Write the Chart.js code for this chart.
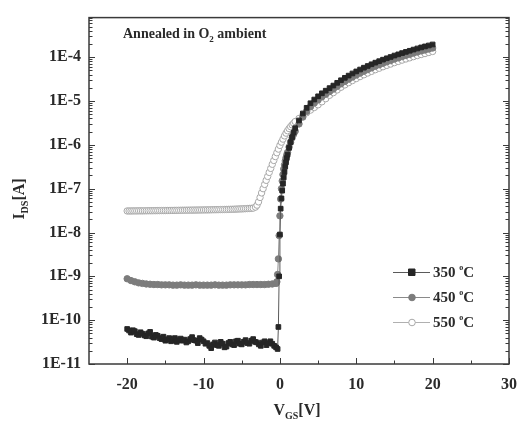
<!DOCTYPE html>
<html><head><meta charset="utf-8">
<script src="https://cdn.jsdelivr.net/npm/chart.js@4/dist/chart.umd.min.js"></script>
<style>html,body{margin:0;padding:0;background:#fff}canvas{display:block}</style>
</head><body>
<canvas id="c" width="528" height="431"></canvas>
<script>
// ---- data ----
const seriesLabels = ["350", "450", "550"];
const xTicks = [-20, -10, 0, 10, 20, 30];
const yDecades = [-11, -10, -9, -8, -7, -6, -5, -4];

const V350 = [-20,-19.75,-19.5,-19.25,-19,-18.75,-18.5,-18.25,-18,-17.75,-17.5,-17.25,-17,-16.75,-16.5,-16.25,-16,-15.75,-15.5,-15.25,
 -15,-14.75,-14.5,-14.25,-14,-13.75,-13.5,-13.25,-13,-12.75,-12.5,-12.25,-12,-11.75,-11.5,-11.25,-11,-10.75,-10.5,-10.25,
 -10,-9.75,-9.5,-9.25,-9,-8.75,-8.5,-8.25,-8,-7.75,-7.5,-7.25,-7,-6.75,-6.5,-6.25,-6,-5.75,-5.5,-5.25,
 -5,-4.75,-4.5,-4.25,-4,-3.75,-3.5,-3.25,-3,-2.75,-2.5,-2.25,-2,-1.75,-1.5,-1.25,-1,-0.75,-0.5,
 -0.3,-0.2,-0.1,0,0.1,0.2,0.3,0.4,0.5,0.6,0.7,0.8,0.9,1,1.2,1.4,1.6,1.8,2,
 2.5,3,3.5,4,4.5,5,5.5,6,6.5,7,7.5,8,8.5,9,9.5,10,10.5,11,11.5,12,12.5,13,13.5,14,14.5,15,15.5,16,16.5,17,17.5,18,18.5,19,19.5,20];
const I350 = [6.3e-11,5.8e-11,5.2e-11,5.9e-11,5.6e-11,4.8e-11,4.6e-11,5.3e-11,4.9e-11,4.5e-11,4.3e-11,5.0e-11,5.4e-11,4.2e-11,4.0e-11,4.6e-11,4.4e-11,3.9e-11,3.7e-11,4.2e-11,
 3.4e-11,3.6e-11,3.9e-11,3.3e-11,3.5e-11,3.9e-11,3.2e-11,3.5e-11,3.8e-11,3.4e-11,3.6e-11,3.1e-11,3.3e-11,3.7e-11,4.1e-11,3.5e-11,3.4e-11,3.0e-11,3.9e-11,3.6e-11,
 3.3e-11,2.9e-11,3.0e-11,2.6e-11,2.3e-11,2.8e-11,3.1e-11,2.7e-11,2.6e-11,3.2e-11,2.9e-11,2.4e-11,2.5e-11,3.0e-11,3.2e-11,2.8e-11,2.7e-11,3.3e-11,3.4e-11,2.9e-11,
 2.8e-11,3.2e-11,3.5e-11,3.0e-11,2.9e-11,3.4e-11,3.7e-11,3.2e-11,3.1e-11,2.8e-11,2.6e-11,3.1e-11,3.3e-11,2.7e-11,3.0e-11,3.3e-11,2.9e-11,2.6e-11,2.4e-11,
 2.2e-11,7e-11,1.0e-9,9e-9,3.5e-8,6e-8,9e-8,1.3e-7,1.8e-7,2.4e-7,
 3.2e-7,4.0e-7,5.0e-7,6.0e-7,8.5e-7,1.15e-6,1.5e-6,1.9e-6,2.4e-6,
 3.6e-6,5.2e-6,7.0e-6,8.9e-6,1.08e-5,1.28e-5,1.5e-5,1.72e-5,1.97e-5,2.25e-5,
 2.6e-5,2.98e-5,3.38e-5,3.8e-5,4.25e-5,4.73e-5,5.23e-5,5.76e-5,6.3e-5,6.89e-5,
 7.5e-5,8.1e-5,8.77e-5,9.44e-5,1.01e-4,1.09e-4,1.16e-4,1.24e-4,1.32e-4,1.4e-4,
 1.49e-4,1.58e-4,1.67e-4,1.76e-4,1.85e-4,1.95e-4];

const V450 = [-20,-19.5,-19,-18.5,-18,-17.5,-17,-16.5,-16,-15.5,-15,-14.5,-14,-13.5,-13,-12.5,-12,-11.5,-11,-10.5,-10,-9.5,-9,-8.5,-8,-7.5,-7,-6.5,-6,-5.5,-5,-4.5,-4,-3.5,-3,-2.5,-2,-1.5,-1,-0.5,
 -0.4,-0.3,-0.2,-0.1,0,0.1,0.2,0.3,0.4,0.5,0.6,0.7,0.8,0.9,1,1.2,1.4,1.6,1.8,2,
 2.5,3,3.5,4,4.5,5,5.5,6,6.5,7,7.5,8,8.5,9,9.5,10,10.5,11,11.5,12,12.5,13,13.5,14,14.5,15,15.5,16,16.5,17,17.5,18,18.5,19,19.5,20];
const I450 = [8.8e-10,8.0e-10,7.5e-10,7.1e-10,6.9e-10,6.7e-10,6.6e-10,6.5e-10,6.5e-10,6.4e-10,
 6.4e-10,6.4e-10,6.3e-10,6.3e-10,6.4e-10,6.3e-10,6.3e-10,6.3e-10,6.4e-10,6.3e-10,
 6.3e-10,6.3e-10,6.3e-10,6.4e-10,6.3e-10,6.3e-10,6.3e-10,6.4e-10,6.4e-10,6.4e-10,
 6.4e-10,6.4e-10,6.5e-10,6.5e-10,6.5e-10,6.5e-10,6.5e-10,6.6e-10,6.7e-10,6.9e-10,
 7.5e-10,1.1e-9,2.5e-9,8.5e-9,2.4e-8,5.8e-8,1.0e-7,1.5e-7,2.1e-7,2.8e-7,
 3.5e-7,4.3e-7,5.1e-7,5.9e-7,6.7e-7,8.9e-7,1.15e-6,1.45e-6,1.75e-6,2.05e-6,
 3.0e-6,4.3e-6,5.8e-6,7.4e-6,9.0e-6,1.06e-5,1.25e-5,1.43e-5,1.64e-5,1.87e-5,
 2.16e-5,2.47e-5,2.8e-5,3.15e-5,3.53e-5,3.93e-5,4.34e-5,4.78e-5,5.23e-5,5.72e-5,
 6.22e-5,6.72e-5,7.28e-5,7.84e-5,8.4e-5,9.05e-5,9.63e-5,1.03e-4,1.1e-4,1.16e-4,
 1.24e-4,1.31e-4,1.39e-4,1.46e-4,1.54e-4,1.62e-4];

const V550 = [-20,-19.75,-19.5,-19.25,-19,-18.75,-18.5,-18.25,-18,-17.75,-17.5,-17.25,-17,-16.75,-16.5,-16.25,-16,-15.75,-15.5,-15.25,
 -15,-14.75,-14.5,-14.25,-14,-13.75,-13.5,-13.25,-13,-12.75,-12.5,-12.25,-12,-11.75,-11.5,-11.25,-11,-10.75,-10.5,-10.25,
 -10,-9.75,-9.5,-9.25,-9,-8.75,-8.5,-8.25,-8,-7.75,-7.5,-7.25,-7,-6.75,-6.5,-6.25,-6,-5.75,-5.5,-5.25,
 -5,-4.75,-4.5,-4.25,-4,-3.75,-3.5,
 -3.2,-3,-2.8,-2.6,-2.4,-2.2,-2,-1.8,-1.6,-1.4,-1.2,-1,-0.8,-0.6,-0.4,-0.2,0,0.2,0.4,0.6,0.8,1,1.2,1.4,1.6,1.8,2,
 2.5,3,3.5,4,4.5,5,5.5,6,6.5,7,7.5,8,8.5,9,9.5,10,10.5,11,11.5,12,12.5,13,13.5,14,14.5,15,15.5,16,16.5,17,17.5,18,18.5,19,19.5,20];
const I550 = [3.10e-8,3.10e-8,3.10e-8,3.11e-8,3.11e-8,3.11e-8,3.12e-8,3.12e-8,3.12e-8,3.13e-8,3.13e-8,3.14e-8,3.14e-8,3.14e-8,3.15e-8,3.15e-8,3.16e-8,3.16e-8,3.17e-8,3.17e-8,
 3.17e-8,3.18e-8,3.18e-8,3.19e-8,3.19e-8,3.20e-8,3.20e-8,3.21e-8,3.21e-8,3.22e-8,3.22e-8,3.23e-8,3.23e-8,3.24e-8,3.24e-8,3.25e-8,3.25e-8,3.26e-8,3.26e-8,3.27e-8,
 3.27e-8,3.28e-8,3.28e-8,3.29e-8,3.30e-8,3.31e-8,3.31e-8,3.32e-8,3.33e-8,3.34e-8,3.34e-8,3.35e-8,3.36e-8,3.37e-8,3.38e-8,3.39e-8,3.40e-8,3.42e-8,3.43e-8,3.45e-8,
 3.46e-8,3.48e-8,3.50e-8,3.52e-8,3.54e-8,3.56e-8,3.60e-8,
 3.8e-8,4.2e-8,5.0e-8,6.3e-8,8.0e-8,1.0e-7,1.25e-7,1.55e-7,1.9e-7,2.35e-7,
 2.9e-7,3.6e-7,4.4e-7,5.4e-7,6.6e-7,8.0e-7,9.7e-7,1.15e-6,1.35e-6,1.6e-6,
 1.85e-6,2.1e-6,2.35e-6,2.6e-6,2.85e-6,3.1e-6,3.4e-6,
 4.0e-6,4.7e-6,5.4e-6,6.2e-6,7.1e-6,8.2e-6,9.6e-6,1.13e-5,1.35e-5,1.55e-5,
 1.79e-5,2.06e-5,2.33e-5,2.62e-5,2.93e-5,3.26e-5,3.61e-5,3.97e-5,4.35e-5,4.75e-5,
 5.18e-5,5.59e-5,6.05e-5,6.51e-5,6.97e-5,7.52e-5,8.0e-5,8.56e-5,9.1e-5,9.66e-5,
 1.03e-4,1.09e-4,1.15e-4,1.21e-4,1.28e-4,1.35e-4];

// ---- chart ----
const SERIF = '"Liberation Serif", "DejaVu Serif", serif';
const toPts = (xs, ys) => xs.map((x, i) => ({x: x, y: ys[i]}));

const styles = [
  {pointStyle: 'rect', pointRadius: 3.3, backgroundColor: '#262626', borderColor: '#262626', lineColor: '#5a5a5a'},
  {pointStyle: 'circle', pointRadius: 3.2, backgroundColor: '#7c7c7c', borderColor: '#7c7c7c', lineColor: '#8a8a8a'},
  {pointStyle: 'circle', pointRadius: 3.2, backgroundColor: '#ffffff', borderColor: '#a8a8a8', lineColor: '#b0b0b0'}
];
const seriesData = [toPts(V350, I350), toPts(V450, I450), toPts(V550, I550)];

const datasets = seriesData.map((d, i) => ({
  label: seriesLabels[i],
  data: d,
  showLine: true,
  borderColor: styles[i].lineColor,
  borderWidth: 1,
  pointStyle: styles[i].pointStyle,
  pointRadius: styles[i].pointRadius,
  pointBackgroundColor: styles[i].backgroundColor,
  pointBorderColor: styles[i].borderColor,
  pointBorderWidth: 1
}));

function drawSubText(ctx, parts, x, y) {
  let cx = x;
  for (const p of parts) {
    ctx.font = 'bold ' + p[1] + 'px ' + SERIF;
    ctx.fillText(p[0], cx, y + p[2]);
    cx += ctx.measureText(p[0]).width;
  }
  return cx;
}
function measureParts(ctx, parts) {
  let w = 0;
  for (const p of parts) { ctx.font = 'bold ' + p[1] + 'px ' + SERIF; w += ctx.measureText(p[0]).width; }
  return w;
}

const decor = {
  id: 'decor',
  afterDraw(chart) {
    const ctx = chart.ctx, a = chart.chartArea;
    const xs = chart.scales.x, ys = chart.scales.y;
    ctx.save();
    ctx.strokeStyle = '#3a3a3a';
    ctx.lineWidth = 1.5;
    ctx.strokeRect(a.left, a.top, a.right - a.left, a.bottom - a.top);
    ctx.lineWidth = 1;
    ctx.beginPath();
    for (const k of yDecades) {
      for (let m = 1; m <= 9; m++) {
        const v = m * Math.pow(10, k);
        if (v > ys.max || v < ys.min) continue;
        const py = Math.round(ys.getPixelForValue(v)) + 0.5;
        const len = m === 1 ? 6 : 3.5;
        ctx.moveTo(a.left, py); ctx.lineTo(a.left + len, py);
        ctx.moveTo(a.right, py); ctx.lineTo(a.right - len, py);
      }
    }
    for (let v = -20; v <= 30; v += 5) {
      const px = Math.round(xs.getPixelForValue(v)) + 0.5;
      const len = (v % 10 === 0) ? 6 : 3.5;
      ctx.moveTo(px, a.bottom); ctx.lineTo(px, a.bottom - len);
    }
    ctx.stroke();

    ctx.fillStyle = '#2a2a2a';
    ctx.textBaseline = 'alphabetic';
    ctx.textAlign = 'left';
    const xParts = [['V', 16, 0], ['GS', 10, 4], ['[V]', 16, 0]];
    const xw = measureParts(ctx, xParts);
    drawSubText(ctx, xParts, 297 - xw / 2, 415);
    const yParts = [['I', 16, 0], ['DS', 10, 4], ['[A]', 16, 0]];
    const yw = measureParts(ctx, yParts);
    ctx.save();
    ctx.translate(24, 199 + yw / 2);
    ctx.rotate(-Math.PI / 2);
    drawSubText(ctx, yParts, 0, 0);
    ctx.restore();
    drawSubText(ctx, [['Annealed in O', 14, 0], ['2', 9, 4], [' ambient', 14, 0]], 123, 38);

    const rows = [272, 297, 322];
    rows.forEach((ry, i) => {
      const st = styles[i];
      ctx.strokeStyle = st.lineColor;
      ctx.lineWidth = 1;
      ctx.beginPath(); ctx.moveTo(393, ry + 0.5); ctx.lineTo(430, ry + 0.5); ctx.stroke();
      ctx.fillStyle = st.backgroundColor;
      ctx.strokeStyle = st.borderColor;
      ctx.beginPath();
      if (st.pointStyle === 'rect') { ctx.rect(408.5, ry - 3, 6.5, 6.5); }
      else { ctx.arc(412, ry + 0.5, 3.3, 0, Math.PI * 2); }
      ctx.fill(); ctx.stroke();
      ctx.fillStyle = '#2a2a2a';
      drawSubText(ctx, [[seriesLabels[i] + ' ', 15, 0], ['o', 8, -7], ['C', 15, 0]], 433, ry + 5);
    });
    ctx.restore();
  }
};

new Chart(document.getElementById('c'), {
  type: 'scatter',
  data: {datasets: datasets},
  options: {
    responsive: false,
    animation: false,
    devicePixelRatio: 1,
    layout: {padding: {left: 5, right: 9, top: 9, bottom: 5}},
    plugins: {legend: {display: false}, tooltip: {enabled: false}},
    scales: {
      x: {
        type: 'linear', min: -25, max: 30,
        grid: {display: false, drawTicks: false},
        border: {display: false},
        afterBuildTicks: s => { s.ticks = xTicks.map(v => ({value: v})); },
        afterFit: s => { s.height = 62; },
        ticks: {padding: 11, color: '#2a2a2a', font: {family: SERIF, size: 16, weight: 'bold'},
                callback: v => String(v)}
      },
      y: {
        type: 'logarithmic', min: 1e-11, max: 8e-4,
        grid: {display: false, drawTicks: false},
        border: {display: false},
        afterBuildTicks: s => { s.ticks = yDecades.map(k => ({value: Math.pow(10, k)})); },
        afterFit: s => { s.width = 84; },
        ticks: {padding: 8, color: '#2a2a2a', autoSkip: false, font: {family: SERIF, size: 16, weight: 'bold'},
                callback: v => '1E' + Math.round(Math.log10(v))}
      }
    }
  },
  plugins: [decor]
});
</script>
</body></html>
